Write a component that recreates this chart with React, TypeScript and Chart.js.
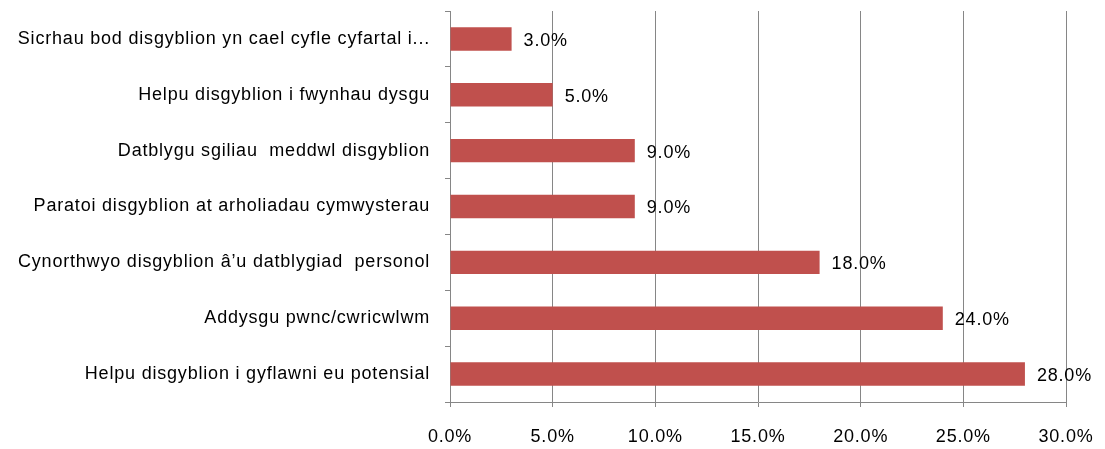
import React, { useEffect, useRef } from "react";
import { Chart, registerables } from "chart.js";

Chart.register(...registerables);

const categories = [
  "Sicrhau bod disgyblion yn cael cyfle cyfartal i...",
  "Helpu disgyblion i fwynhau dysgu",
  "Datblygu sgiliau  meddwl disgyblion",
  "Paratoi disgyblion at arholiadau cymwysterau",
  "Cynorthwyo disgyblion â’u datblygiad  personol",
  "Addysgu pwnc/cwricwlwm",
  "Helpu disgyblion i gyflawni eu potensial",
];
const values = [3.0, 5.0, 9.0, 9.0, 18.0, 24.0, 28.0];
const xTicks = [0, 5, 10, 15, 20, 25, 30];

const FONT = "'Liberation Sans', sans-serif";
const SIZE = 18;
const SPACING = "0.8px";

export default function App() {
  const ref = useRef<HTMLCanvasElement>(null);
  useEffect(() => {
    if (!ref.current) return;
    const spacingPlugin = {
      id: "spacing",
      beforeUpdate(chart: any) {
        chart.ctx.letterSpacing = SPACING;
      },
      beforeDraw(chart: any) {
        chart.ctx.letterSpacing = SPACING;
      },
    };
    const labelPlugin = {
      id: "valueLabels",
      afterDatasetsDraw(chart: any) {
        const ctx = chart.ctx;
        const meta = chart.getDatasetMeta(0);
        ctx.save();
        ctx.font = `${SIZE}px ${FONT}`;
        ctx.fillStyle = "#000";
        ctx.textAlign = "left";
        ctx.textBaseline = "middle";
        meta.data.forEach((bar: any, i: number) => {
          ctx.fillText(values[i].toFixed(1) + "%", bar.x + 12, bar.y + 2);
        });
        ctx.restore();
      },
    };
    const chart = new Chart(ref.current, {
      type: "bar",
      data: {
        labels: categories,
        datasets: [
          {
            data: values,
            backgroundColor: "#C0504D",
            borderWidth: 0,
            barPercentage: 0.42,
            categoryPercentage: 1,
          },
        ],
      },
      options: {
        indexAxis: "y",
        animation: false,
        responsive: false,
        maintainAspectRatio: false,
        layout: { padding: { left: 0, right: 39, top: 11, bottom: 0 } },
        plugins: { legend: { display: false }, tooltip: { enabled: false } },
        scales: {
          x: {
            min: 0,
            max: 30,
            afterBuildTicks(scale: any) {
              scale.ticks = xTicks.map((v) => ({ value: v }));
            },
            afterFit(scale: any) {
              scale.height = 47;
              scale.paddingLeft = 0;
              scale.paddingRight = 0;
            },
            grid: {
              color: "#868686",
              lineWidth: 1,
              tickLength: 5,
              drawTicks: true,
            },
            border: { color: "#868686", width: 1 },
            ticks: {
              color: "#000",
              font: { family: FONT, size: SIZE },
              padding: 19,
              maxRotation: 0,
              callback: (v: any) => Number(v).toFixed(1) + "%",
            },
          },
          y: {
            afterFit(scale: any) {
              scale.width = 450;
              scale.paddingTop = 0;
              scale.paddingBottom = 0;
            },
            grid: {
              display: true,
              drawOnChartArea: false,
              drawTicks: true,
              tickLength: 5,
              color: "#868686",
              offset: true,
            },
            border: { color: "#868686", width: 1 },
            ticks: {
              color: "#000",
              font: { family: FONT, size: SIZE },
              padding: 15,
              autoSkip: false,
            },
          },
        },
      },
      plugins: [spacingPlugin, labelPlugin],
    });
    return () => chart.destroy();
  }, []);
  return (
    <div style={{ position: "fixed", left: 0, top: 0, width: 1105, height: 449, background: "#fff" }}>
      <canvas ref={ref} width={1105} height={449} style={{ width: 1105, height: 449 }} />
    </div>
  );
}
